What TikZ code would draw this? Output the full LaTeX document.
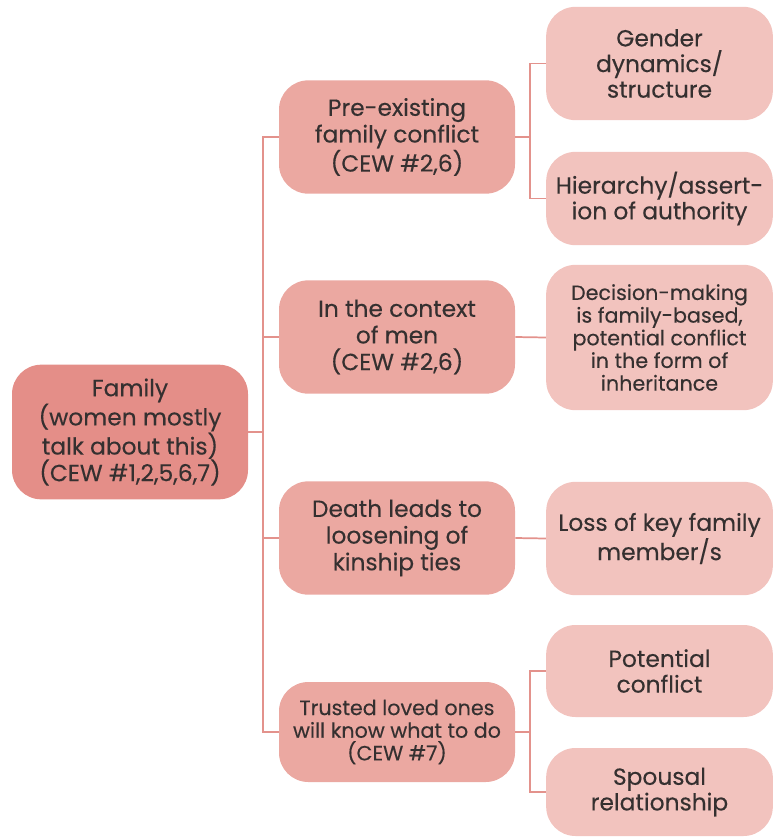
\documentclass[tikz,border=0pt]{standalone}
\usepackage{fontspec}
\setmainfont{Poppins}[FakeBold=0.25]
\definecolor{famfill}{HTML}{E48E88}
\definecolor{subfill}{HTML}{EBA8A1}
\definecolor{leaffill}{HTML}{F2C3BE}
\definecolor{linkcol}{HTML}{E3928C}
\definecolor{txt}{HTML}{353030}
\tikzset{
  box/.style={rounded corners=22pt, inner sep=0pt, align=center, text=txt,
    font=\fontsize{17.5}{20}\selectfont},
  fam/.style={box, fill=famfill, minimum width=177pt, minimum height=101pt},
  sub/.style={box, fill=subfill, minimum width=177pt, minimum height=85pt},
  leaf/.style={box, fill=leaffill, minimum width=170pt, font=\fontsize{17.5}{19.2}\selectfont},
  small/.style={font=\fontsize{15.5}{17}\selectfont},
  link/.style={draw=linkcol, line width=1.3pt}
}
\begin{document}
\begin{tikzpicture}[x=0.75pt,y=-0.75pt]
\useasboundingbox (0,0) rectangle (773,839);

\node[fam] (fam) at (130,432) {Family\\(women mostly\\talk about this)\\(CEW \#1,2,5,6,7)};

\node[sub] (pre) at (397,137) {Pre-existing\\family conflict\\(CEW \#2,6)};
\node[sub] (ctx) at (397,337) {In the context\\of men\\(CEW \#2,6)};
\node[sub] (death) at (397,538) {Death leads to\\loosening of\\kinship ties};
\node[sub,small,minimum height=75pt] (trust) at (397,732) {Trusted loved ones\\will know what to do\\(CEW \#7)};

\node[leaf,minimum height=85pt] (gender) at (659.5,63.5) {Gender\\dynamics/\\structure};
\node[leaf,minimum height=70pt] (hier) at (659.5,198.5) {Hierarchy/assert-\\ion of authority};
\node[leaf,small,minimum height=109pt] (dec) at (659.5,337.5) {Decision-making\\is family-based,\\potential conflict\\in the form of\\inheritance};
\node[leaf,minimum height=85pt] (loss) at (659.5,538.5) {Loss of key family\\member/s};
\node[leaf,minimum height=69pt] (pot) at (659.5,671) {Potential\\conflict};
\node[leaf,minimum height=66pt] (spouse) at (659.5,792) {Spousal\\relationship};

% family to its four themes
\draw[link] (fam.east) -- ++(15,0) coordinate (t);
\draw[link] (t) |- (pre.west);
\draw[link] (t) |- (ctx.west);
\draw[link] (t) |- (death.west);
\draw[link] (t) |- (trust.west);

% themes to details
\draw[link] (pre.east) -- ++(15,0) coordinate (p);
\draw[link] (p) |- (gender.west);
\draw[link] (p) |- (hier.west);
\draw[link] (ctx.east) -- (dec.west);
\draw[link] (death.east) -- (loss.west);
\draw[link] (trust.east) -- ++(15,0) coordinate (q);
\draw[link] (q) |- (pot.west);
\draw[link] (q) |- (spouse.west);
\end{tikzpicture}
\end{document}
